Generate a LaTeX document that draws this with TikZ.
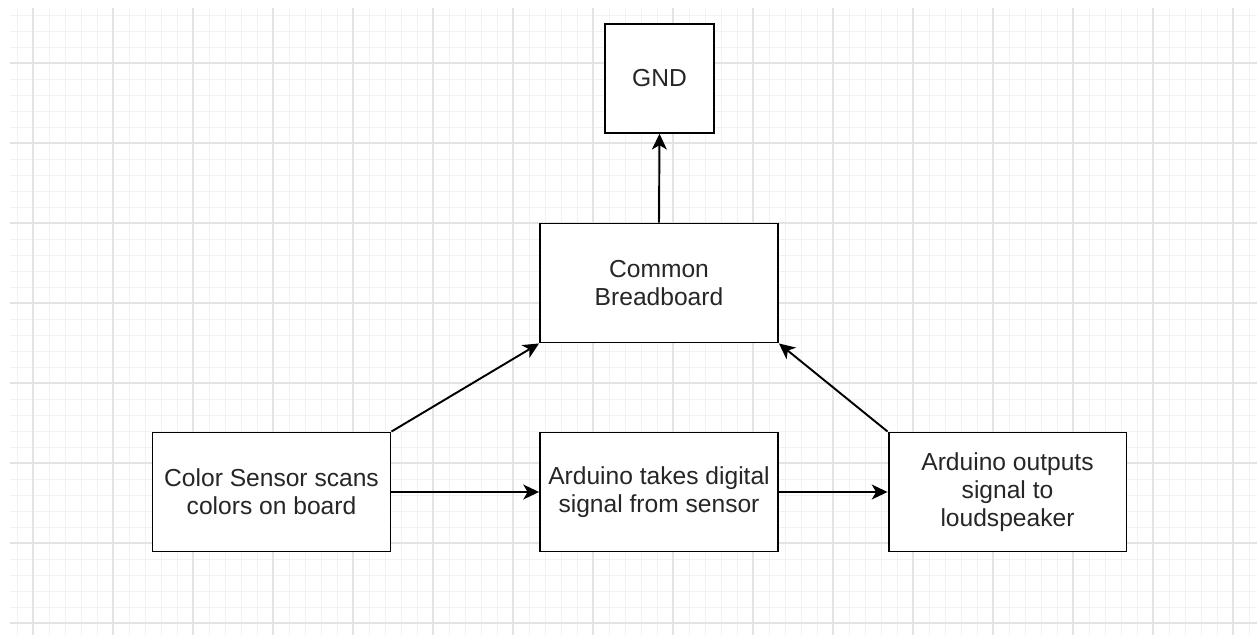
\documentclass[tikz,border=0pt]{standalone}
\usepackage{fontspec}
\setmainfont{Liberation Sans}
\usetikzlibrary{arrows.meta}
\begin{document}
\begin{tikzpicture}[x=0.02cm, y=-0.02cm, every node/.style={font=\fontsize{14}{16}\selectfont, text=black!85},
  blockbox/.style={draw=black, line width=1.1pt, fill=white, align=center, inner sep=0pt, minimum width=4.76cm, minimum height=2.38cm},
  link/.style={-{Stealth[length=9pt,width=8.5pt,inset=2.5pt]}, line width=1.1pt}]
\useasboundingbox (0,0) rectangle (1257,635);
\fill[white] (0,0) rectangle (1257,635);
% Grid
\foreach \x in {17,33,...,1257} \draw[black!5, line width=0.5pt] (\x,8) -- (\x,635);
\foreach \y in {15,31,...,635} \draw[black!5, line width=0.5pt] (10,\y) -- (1257,\y);
\foreach \x in {33,113,...,1257} \draw[black!11, line width=0.6pt] (\x,8) -- (\x,635);
\foreach \y in {63,143,...,635} \draw[black!11, line width=0.6pt] (10,\y) -- (1257,\y);
% Boxes
\node[blockbox, minimum width=2.17cm, minimum height=2.17cm] (gnd) at (659.5,78.5) {GND};
\node[blockbox] (board) at (659,283) {Common\\Breadboard};
\node[blockbox] (sensor) at (271.5,492) {Color Sensor scans\\colors on board};
\node[blockbox] (takes) at (659,492) {Arduino takes digital\\signal from sensor};
\node[blockbox] (outputs) at (1007.5,492) {Arduino outputs\\signal to\\loudspeaker};
% Connections
\draw[link] (board.north) -- (gnd.south);
\draw[link] (sensor.north east) -- (board.south west);
\draw[link] (outputs.north west) -- (board.south east);
\draw[link] (sensor.east) -- (takes.west);
\draw[link] (takes.east) -- (outputs.west);
\end{tikzpicture}
\end{document}
